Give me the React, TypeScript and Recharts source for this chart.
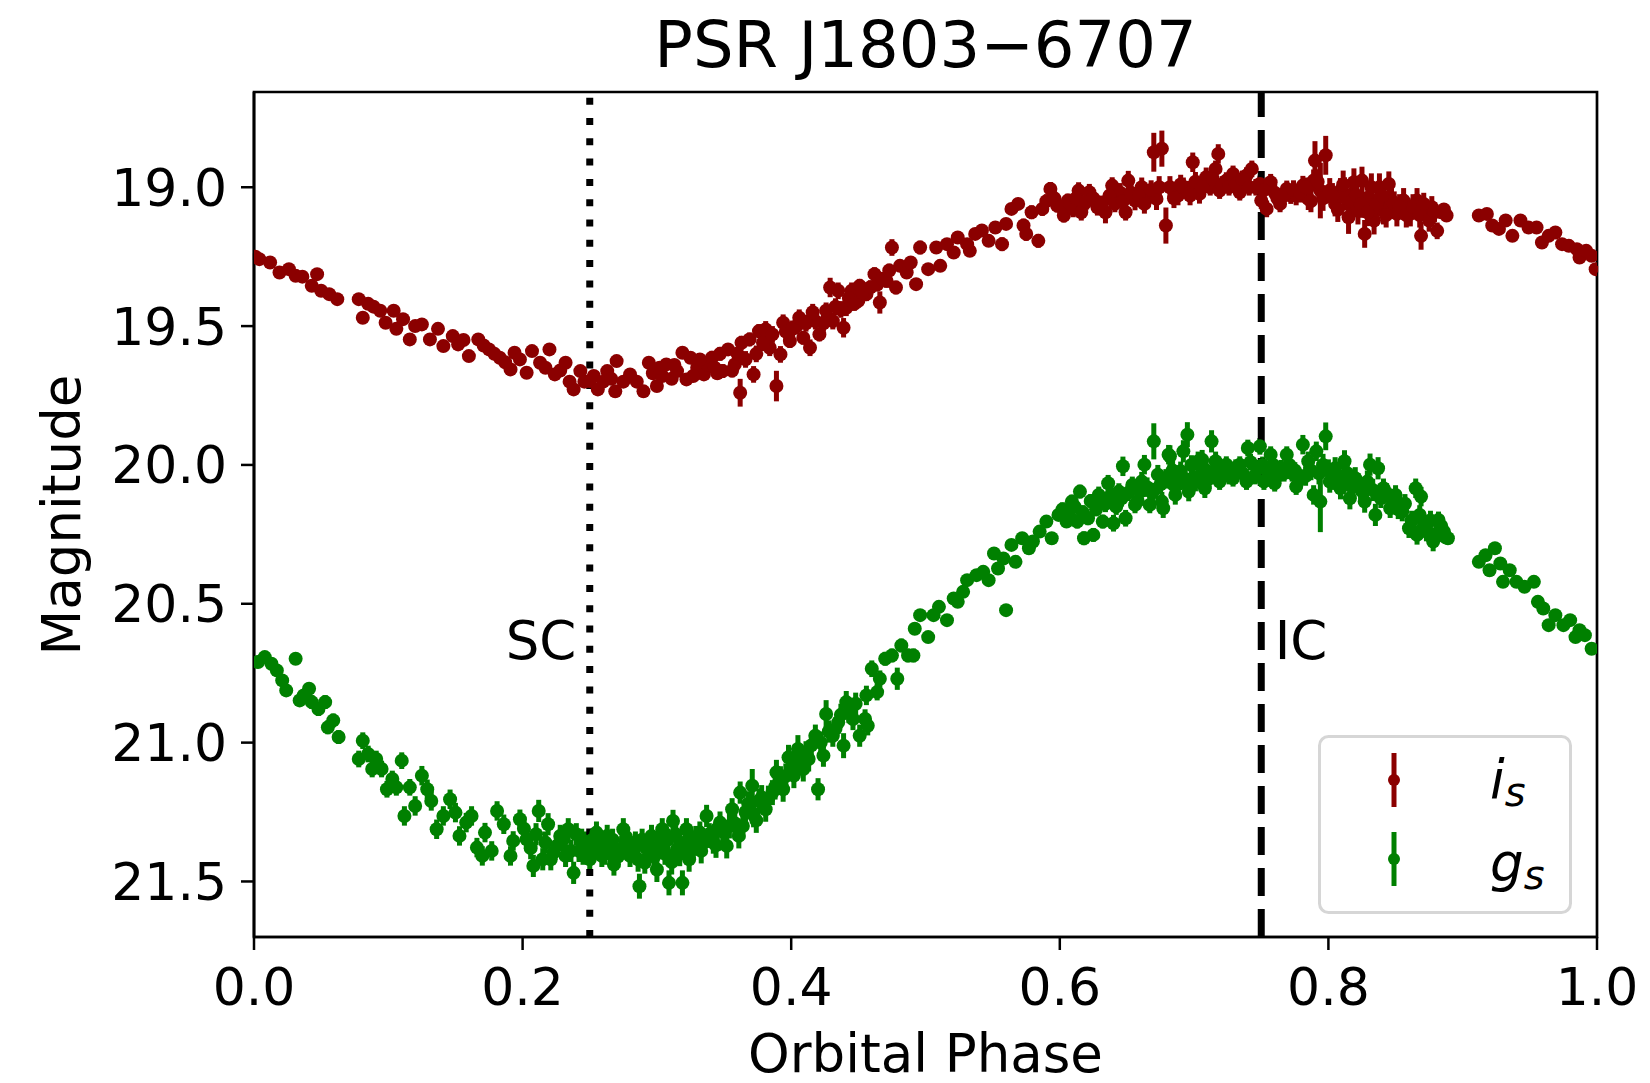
import {
  ScatterChart,
  Scatter,
  XAxis,
  YAxis,
  ErrorBar,
  ReferenceLine,
  ReferenceArea,
  ReferenceDot,
  Legend,
} from "recharts";

// [orbital phase, magnitude, 1-sigma error]
const iBand: [number, number, number][] = [
  [0.001, 19.25, 0.012], [0.004, 19.259, 0.012], [0.012, 19.271, 0.012], [0.019, 19.307, 0.012],
  [0.026, 19.295, 0.012], [0.031, 19.319, 0.012], [0.036, 19.322, 0.012], [0.043, 19.355, 0.012],
  [0.047, 19.313, 0.012], [0.05, 19.373, 0.012], [0.056, 19.385, 0.012], [0.062, 19.403, 0.012],
  [0.078, 19.403, 0.012], [0.081, 19.47, 0.015], [0.085, 19.42, 0.015], [0.089, 19.43, 0.015],
  [0.094, 19.445, 0.015], [0.098, 19.488, 0.015], [0.104, 19.445, 0.015], [0.106, 19.51, 0.015],
  [0.111, 19.475, 0.015], [0.116, 19.548, 0.015], [0.12, 19.5, 0.015], [0.125, 19.494, 0.015],
  [0.131, 19.548, 0.015], [0.137, 19.51, 0.015], [0.141, 19.572, 0.015], [0.148, 19.536, 0.015],
  [0.152, 19.566, 0.015], [0.156, 19.55, 0.015], [0.16, 19.608, 0.015], [0.167, 19.548, 0.015],
  [0.171, 19.57, 0.015], [0.175, 19.584, 0.015], [0.179, 19.6, 0.015], [0.183, 19.614, 0.015],
  [0.187, 19.63, 0.015], [0.191, 19.656, 0.015], [0.194, 19.596, 0.015], [0.198, 19.62, 0.015],
  [0.203, 19.668, 0.015], [0.207, 19.59, 0.015], [0.213, 19.632, 0.015], [0.217, 19.65, 0.015],
  [0.22, 19.584, 0.015], [0.224, 19.674, 0.015], [0.228, 19.66, 0.015], [0.232, 19.632, 0.015],
  [0.235, 19.7, 0.015], [0.238, 19.728, 0.015], [0.243, 19.662, 0.015], [0.246, 19.7, 0.015],
  [0.25, 19.698, 0.015], [0.253, 19.68, 0.015], [0.256, 19.728, 0.015], [0.26, 19.7, 0.015],
  [0.263, 19.662, 0.015], [0.266, 19.69, 0.015], [0.269, 19.735, 0.015], [0.27, 19.626, 0.015],
  [0.275, 19.7, 0.015], [0.28, 19.674, 0.015], [0.285, 19.7, 0.015], [0.29, 19.735, 0.018],
  [0.294, 19.632, 0.018], [0.297, 19.67, 0.018], [0.3, 19.716, 0.018], [0.304, 19.68, 0.018],
  [0.307, 19.638, 0.018], [0.311, 19.69, 0.018], [0.315, 19.662, 0.018], [0.319, 19.596, 0.018],
  [0.322, 19.692, 0.02], [0.325, 19.614, 0.02], [0.33, 19.65, 0.02], [0.335, 19.674, 0.02],
  [0.338, 19.64, 0.02], [0.341, 19.614, 0.025], [0.345, 19.67, 0.02], [0.349, 19.662, 0.025],
  [0.353, 19.584, 0.02], [0.358, 19.638, 0.025], [0.362, 19.74, 0.05], [0.363, 19.56, 0.025],
  [0.366, 19.62, 0.03], [0.369, 19.548, 0.025], [0.372, 19.674, 0.03], [0.376, 19.518, 0.025],
  [0.381, 19.512, 0.03], [0.384, 19.578, 0.03], [0.389, 19.716, 0.055], [0.392, 19.602, 0.03],
  [0.394, 19.488, 0.03], [0.399, 19.554, 0.025], [0.404, 19.5, 0.03], [0.409, 19.542, 0.025],
  [0.414, 19.578, 0.03], [0.418, 19.482, 0.03], [0.421, 19.53, 0.025], [0.426, 19.445, 0.03],
  [0.429, 19.361, 0.035], [0.431, 19.482, 0.03], [0.435, 19.373, 0.03], [0.439, 19.506, 0.035],
  [0.441, 19.434, 0.03], [0.445, 19.373, 0.03], [0.45, 19.409, 0.025], [0.451, 19.355, 0.025],
  [0.456, 19.385, 0.025], [0.462, 19.313, 0.025], [0.466, 19.415, 0.04], [0.471, 19.337, 0.025],
  [0.475, 19.217, 0.03], [0.478, 19.361, 0.025], [0.481, 19.283, 0.02], [0.486, 19.307, 0.02],
  [0.489, 19.271, 0.02], [0.493, 19.349, 0.02], [0.496, 19.217, 0.025], [0.502, 19.295, 0.02],
  [0.508, 19.217, 0.02], [0.511, 19.283, 0.02], [0.516, 19.205, 0.02], [0.521, 19.235, 0.02],
  [0.524, 19.181, 0.02], [0.531, 19.205, 0.02], [0.533, 19.229, 0.02], [0.537, 19.168, 0.02],
  [0.542, 19.156, 0.02], [0.547, 19.193, 0.02], [0.552, 19.145, 0.02], [0.557, 19.205, 0.025],
  [0.56, 19.132, 0.02], [0.564, 19.078, 0.02], [0.569, 19.06, 0.02], [0.573, 19.138, 0.025],
  [0.575, 19.168, 0.025], [0.579, 19.09, 0.025], [0.584, 19.193, 0.025], [0.587, 19.078, 0.025],
  [0.59, 19.05, 0.025], [0.593, 19.006, 0.025], [0.598, 19.066, 0.025], [0.603, 19.102, 0.025],
  [0.606, 19.048, 0.025], [0.61, 19.078, 0.03], [0.614, 19.012, 0.03], [0.618, 19.06, 0.03],
  [0.622, 19.018, 0.03], [0.628, 19.072, 0.03], [0.634, 19.09, 0.04], [0.639, 18.994, 0.03],
  [0.642, 19.036, 0.03], [0.645, 19.02, 0.035], [0.649, 19.09, 0.03], [0.651, 18.976, 0.035],
  [0.656, 19.048, 0.035], [0.661, 19.0, 0.035], [0.666, 19.036, 0.035], [0.67, 18.874, 0.07],
  [0.672, 19.042, 0.04], [0.676, 18.861, 0.065], [0.679, 19.138, 0.065], [0.682, 19.0, 0.04],
  [0.688, 19.03, 0.035], [0.692, 19.0, 0.035], [0.695, 19.012, 0.035], [0.699, 18.91, 0.035],
  [0.704, 19.024, 0.035], [0.709, 18.964, 0.035], [0.712, 19.0, 0.03], [0.716, 18.934, 0.03],
  [0.718, 18.88, 0.035], [0.719, 19.012, 0.03], [0.724, 18.976, 0.03], [0.729, 18.952, 0.03],
  [0.734, 19.018, 0.03], [0.739, 18.958, 0.03], [0.743, 18.934, 0.03], [0.746, 19.0, 0.03],
  [0.749, 18.988, 0.03], [0.75, 19.048, 0.03], [0.754, 19.078, 0.03], [0.757, 18.982, 0.03],
  [0.76, 19.02, 0.03], [0.764, 19.06, 0.03], [0.769, 19.006, 0.03], [0.772, 19.03, 0.03],
  [0.776, 19.03, 0.035], [0.781, 18.994, 0.035], [0.785, 19.042, 0.04], [0.789, 18.976, 0.04],
  [0.79, 18.904, 0.07], [0.794, 19.012, 0.1], [0.798, 18.885, 0.07], [0.801, 19.012, 0.045],
  [0.805, 19.06, 0.045], [0.809, 19.012, 0.045], [0.812, 19.024, 0.06], [0.815, 19.108, 0.06],
  [0.819, 18.982, 0.05], [0.822, 19.084, 0.05], [0.825, 18.976, 0.05], [0.827, 19.168, 0.05],
  [0.83, 19.036, 0.05], [0.834, 19.12, 0.05], [0.838, 19.0, 0.05], [0.841, 19.084, 0.05],
  [0.845, 18.988, 0.045], [0.847, 19.048, 0.045], [0.851, 19.096, 0.045], [0.856, 19.048, 0.045],
  [0.861, 19.096, 0.045], [0.866, 19.048, 0.045], [0.869, 19.175, 0.05], [0.873, 19.096, 0.04],
  [0.877, 19.072, 0.04], [0.881, 19.157, 0.03], [0.884, 19.09, 0.02], [0.888, 19.102, 0.015],
  [0.912, 19.102, 0.012], [0.918, 19.096, 0.012], [0.922, 19.138, 0.012], [0.927, 19.15, 0.012],
  [0.932, 19.12, 0.012], [0.937, 19.175, 0.012], [0.943, 19.12, 0.012], [0.949, 19.145, 0.012],
  [0.955, 19.145, 0.012], [0.959, 19.199, 0.012], [0.964, 19.175, 0.012], [0.969, 19.163, 0.012],
  [0.974, 19.205, 0.012], [0.979, 19.211, 0.012], [0.985, 19.223, 0.012], [0.987, 19.253, 0.012],
  [0.992, 19.229, 0.012], [0.996, 19.247, 0.012], [0.999, 19.295, 0.012],
  // more points inside the thick parts of the band
  [0.302, 19.65, 0.02], [0.313, 19.64, 0.02], [0.327, 19.68, 0.02], [0.332, 19.62, 0.02],
  [0.343, 19.65, 0.025], [0.347, 19.6, 0.025], [0.356, 19.66, 0.025], [0.36, 19.6, 0.025],
  [0.374, 19.6, 0.03], [0.379, 19.56, 0.03], [0.386, 19.53, 0.03], [0.396, 19.52, 0.03],
  [0.401, 19.51, 0.03], [0.406, 19.47, 0.03], [0.411, 19.49, 0.03], [0.416, 19.45, 0.03],
  [0.424, 19.49, 0.03], [0.433, 19.43, 0.03], [0.437, 19.44, 0.03], [0.443, 19.4, 0.03],
  [0.447, 19.42, 0.025], [0.453, 19.38, 0.025], [0.459, 19.36, 0.025], [0.464, 19.35, 0.025],
  [0.468, 19.33, 0.025], [0.473, 19.3, 0.025],
  [0.596, 19.04, 0.025], [0.601, 19.07, 0.025], [0.608, 19.06, 0.03], [0.612, 19.04, 0.03],
  [0.616, 19.09, 0.03], [0.62, 19.05, 0.03], [0.625, 19.04, 0.03], [0.631, 19.06, 0.03],
  [0.637, 19.03, 0.03], [0.641, 19.06, 0.03], [0.647, 19.05, 0.03],
  [0.653, 19.02, 0.035], [0.659, 19.03, 0.035], [0.663, 19.06, 0.035], [0.668, 19.01, 0.035],
  [0.674, 19.0, 0.04], [0.685, 19.04, 0.035], [0.69, 18.99, 0.035], [0.697, 19.03, 0.035],
  [0.701, 18.98, 0.035], [0.706, 19.0, 0.035], [0.714, 18.97, 0.03], [0.721, 18.99, 0.03],
  [0.726, 19.0, 0.03], [0.731, 18.99, 0.03], [0.736, 18.97, 0.03], [0.741, 19.0, 0.03],
  [0.752, 19.01, 0.03], [0.762, 19.04, 0.03], [0.767, 19.03, 0.03], [0.774, 19.01, 0.035],
  [0.779, 19.02, 0.035], [0.783, 19.0, 0.035], [0.787, 19.05, 0.04], [0.792, 18.98, 0.045],
  [0.796, 19.04, 0.045], [0.803, 19.03, 0.045], [0.807, 19.08, 0.045], [0.811, 18.99, 0.05],
  [0.817, 19.05, 0.05], [0.821, 19.03, 0.05], [0.824, 19.06, 0.05], [0.829, 19.09, 0.05],
  [0.832, 19.0, 0.05], [0.836, 19.06, 0.05], [0.84, 19.03, 0.05], [0.843, 19.1, 0.045],
  [0.849, 19.06, 0.045], [0.853, 19.07, 0.045], [0.858, 19.1, 0.045], [0.863, 19.07, 0.045],
  [0.868, 19.1, 0.045], [0.871, 19.06, 0.04], [0.875, 19.12, 0.04], [0.879, 19.09, 0.035],
  [0.886, 19.08, 0.02],
];

const gBand: [number, number, number][] = [
  [0.003, 20.71, 0.02], [0.008, 20.692, 0.02], [0.013, 20.716, 0.02], [0.017, 20.74, 0.02],
  [0.021, 20.776, 0.02], [0.024, 20.812, 0.02], [0.031, 20.698, 0.02], [0.034, 20.848, 0.02],
  [0.037, 20.83, 0.02], [0.041, 20.806, 0.02], [0.043, 20.854, 0.025], [0.048, 20.879, 0.025],
  [0.053, 20.854, 0.025], [0.055, 20.945, 0.025], [0.059, 20.92, 0.025], [0.063, 20.98, 0.025],
  [0.078, 21.059, 0.03], [0.081, 20.993, 0.03], [0.085, 21.041, 0.03], [0.088, 21.095, 0.03],
  [0.091, 21.059, 0.03], [0.095, 21.095, 0.03], [0.099, 21.168, 0.03], [0.103, 21.131, 0.03],
  [0.106, 21.161, 0.03], [0.11, 21.065, 0.03], [0.112, 21.264, 0.035], [0.116, 21.161, 0.03],
  [0.12, 21.228, 0.035], [0.125, 21.119, 0.035], [0.129, 21.168, 0.035], [0.132, 21.21, 0.035],
  [0.136, 21.312, 0.035], [0.141, 21.264, 0.035], [0.146, 21.204, 0.035], [0.15, 21.252, 0.035],
  [0.153, 21.336, 0.035], [0.158, 21.288, 0.035], [0.162, 21.264, 0.035], [0.166, 21.378, 0.035],
  [0.17, 21.408, 0.035], [0.172, 21.324, 0.035], [0.177, 21.39, 0.035], [0.181, 21.246, 0.035],
  [0.186, 21.294, 0.035], [0.191, 21.408, 0.035], [0.193, 21.354, 0.035], [0.198, 21.276, 0.035],
  [0.203, 21.348, 0.035], [0.208, 21.444, 0.04], [0.212, 21.246, 0.04], [0.215, 21.42, 0.04],
  [0.219, 21.294, 0.04], [0.223, 21.396, 0.04], [0.228, 21.336, 0.04], [0.232, 21.408, 0.04],
  [0.234, 21.312, 0.04], [0.238, 21.469, 0.04], [0.242, 21.39, 0.04], [0.244, 21.35, 0.04],
  [0.247, 21.36, 0.04], [0.25, 21.42, 0.04], [0.253, 21.38, 0.04], [0.255, 21.324, 0.04],
  [0.259, 21.408, 0.04], [0.263, 21.336, 0.04], [0.265, 21.39, 0.04], [0.268, 21.439, 0.04],
  [0.273, 21.384, 0.04], [0.275, 21.312, 0.04], [0.278, 21.37, 0.04], [0.28, 21.408, 0.04],
  [0.284, 21.36, 0.04], [0.287, 21.517, 0.045], [0.291, 21.432, 0.04], [0.294, 21.38, 0.04],
  [0.296, 21.336, 0.04], [0.3, 21.457, 0.045], [0.304, 21.312, 0.04], [0.306, 21.4, 0.04],
  [0.309, 21.505, 0.045], [0.312, 21.282, 0.04], [0.315, 21.384, 0.04], [0.319, 21.505, 0.045],
  [0.322, 21.312, 0.04], [0.325, 21.35, 0.04], [0.327, 21.384, 0.04], [0.332, 21.324, 0.04],
  [0.335, 21.36, 0.04], [0.337, 21.264, 0.04], [0.342, 21.36, 0.04], [0.345, 21.31, 0.04],
  [0.347, 21.288, 0.04], [0.352, 21.372, 0.045], [0.356, 21.24, 0.04], [0.361, 21.336, 0.045],
  [0.362, 21.18, 0.04], [0.366, 21.25, 0.045], [0.371, 21.155, 0.06], [0.374, 21.28, 0.045],
  [0.378, 21.198, 0.045], [0.381, 21.24, 0.045], [0.386, 21.18, 0.045], [0.389, 21.107, 0.045],
  [0.394, 21.168, 0.045], [0.398, 21.053, 0.045], [0.402, 21.119, 0.045], [0.405, 21.023, 0.05],
  [0.409, 21.095, 0.045], [0.413, 21.059, 0.045], [0.418, 20.975, 0.04], [0.42, 21.168, 0.04],
  [0.424, 21.047, 0.04], [0.426, 20.897, 0.05], [0.431, 20.975, 0.04], [0.435, 20.927, 0.04],
  [0.439, 21.011, 0.045], [0.441, 20.854, 0.04], [0.446, 20.915, 0.04], [0.451, 20.975, 0.04],
  [0.455, 20.915, 0.035], [0.456, 20.83, 0.035], [0.457, 20.939, 0.035], [0.46, 20.734, 0.03],
  [0.464, 20.818, 0.03], [0.466, 20.77, 0.03], [0.47, 20.698, 0.025], [0.475, 20.686, 0.025],
  [0.479, 20.77, 0.04], [0.482, 20.65, 0.025], [0.487, 20.686, 0.025], [0.491, 20.686, 0.025],
  [0.492, 20.59, 0.02], [0.496, 20.541, 0.02], [0.502, 20.62, 0.02], [0.506, 20.541, 0.02],
  [0.51, 20.511, 0.02], [0.516, 20.559, 0.02], [0.521, 20.481, 0.02], [0.524, 20.493, 0.02],
  [0.528, 20.457, 0.02], [0.531, 20.415, 0.02], [0.538, 20.397, 0.02], [0.543, 20.385, 0.02],
  [0.547, 20.415, 0.02], [0.551, 20.319, 0.02], [0.554, 20.373, 0.02], [0.558, 20.337, 0.02],
  [0.56, 20.523, 0.02], [0.564, 20.288, 0.02], [0.567, 20.349, 0.02], [0.572, 20.264, 0.02],
  [0.577, 20.3, 0.02], [0.58, 20.276, 0.02], [0.585, 20.24, 0.02], [0.59, 20.204, 0.02],
  [0.594, 20.264, 0.02], [0.599, 20.18, 0.02], [0.605, 20.204, 0.02], [0.609, 20.132, 0.025],
  [0.613, 20.204, 0.025], [0.615, 20.096, 0.025], [0.618, 20.264, 0.025], [0.621, 20.192, 0.025],
  [0.625, 20.252, 0.025], [0.629, 20.108, 0.03], [0.632, 20.204, 0.025], [0.636, 20.066, 0.03],
  [0.64, 20.21, 0.03], [0.644, 20.096, 0.03], [0.647, 20.005, 0.035], [0.649, 20.192, 0.03],
  [0.654, 20.072, 0.03], [0.656, 20.144, 0.03], [0.66, 20.096, 0.03], [0.663, 19.999, 0.035],
  [0.667, 20.144, 0.03], [0.67, 19.915, 0.065], [0.673, 20.035, 0.035], [0.676, 20.132, 0.035],
  [0.677, 20.156, 0.035], [0.681, 19.963, 0.035], [0.682, 19.969, 0.04], [0.685, 20.072, 0.035],
  [0.686, 20.108, 0.035], [0.69, 20.023, 0.035], [0.692, 19.951, 0.04], [0.695, 19.891, 0.045],
  [0.696, 20.096, 0.035], [0.699, 20.048, 0.035], [0.701, 20.06, 0.035], [0.703, 19.987, 0.035],
  [0.706, 19.981, 0.035], [0.708, 20.084, 0.035], [0.713, 19.915, 0.04], [0.716, 19.987, 0.035],
  [0.719, 20.06, 0.03], [0.724, 19.999, 0.03], [0.729, 20.048, 0.03], [0.734, 19.999, 0.03],
  [0.739, 20.06, 0.03], [0.74, 19.939, 0.03], [0.747, 20.012, 0.03], [0.749, 19.933, 0.03],
  [0.752, 20.06, 0.03], [0.757, 19.963, 0.03], [0.76, 20.066, 0.03], [0.765, 20.012, 0.03],
  [0.769, 19.963, 0.03], [0.773, 20.03, 0.03], [0.776, 20.078, 0.03], [0.781, 19.927, 0.035],
  [0.785, 19.987, 0.035], [0.789, 20.108, 0.035], [0.791, 19.951, 0.035], [0.794, 20.132, 0.11],
  [0.798, 19.897, 0.05], [0.801, 20.06, 0.04], [0.805, 20.012, 0.04], [0.809, 20.084, 0.04],
  [0.812, 19.987, 0.04], [0.816, 20.12, 0.04], [0.82, 20.048, 0.04], [0.824, 20.084, 0.04],
  [0.827, 20.132, 0.04], [0.831, 19.999, 0.04], [0.835, 20.18, 0.04], [0.837, 20.012, 0.04],
  [0.841, 20.084, 0.035], [0.846, 20.156, 0.035], [0.85, 20.108, 0.035], [0.855, 20.168, 0.035],
  [0.86, 20.228, 0.035], [0.865, 20.084, 0.035], [0.866, 20.252, 0.035], [0.869, 20.114, 0.035],
  [0.873, 20.24, 0.035], [0.878, 20.276, 0.035], [0.882, 20.198, 0.03], [0.886, 20.24, 0.02],
  [0.889, 20.264, 0.015], [0.912, 20.349, 0.015], [0.917, 20.325, 0.015], [0.92, 20.379, 0.015],
  [0.924, 20.3, 0.015], [0.928, 20.355, 0.015], [0.93, 20.421, 0.015], [0.935, 20.379, 0.015],
  [0.94, 20.421, 0.015], [0.946, 20.439, 0.015], [0.953, 20.421, 0.015], [0.956, 20.493, 0.015],
  [0.96, 20.517, 0.015], [0.964, 20.577, 0.015], [0.969, 20.541, 0.015], [0.975, 20.577, 0.015],
  [0.98, 20.559, 0.015], [0.984, 20.62, 0.015], [0.987, 20.595, 0.015], [0.991, 20.613, 0.015],
  [0.996, 20.662, 0.015],
  // more points inside the thick parts of the band
  [0.201, 21.31, 0.04], [0.206, 21.38, 0.04], [0.21, 21.33, 0.04], [0.217, 21.36, 0.04],
  [0.221, 21.42, 0.04], [0.226, 21.37, 0.04], [0.23, 21.35, 0.04], [0.236, 21.39, 0.04],
  [0.24, 21.33, 0.04], [0.245, 21.4, 0.04], [0.248, 21.38, 0.04], [0.252, 21.35, 0.04],
  [0.257, 21.37, 0.04], [0.261, 21.4, 0.04], [0.264, 21.36, 0.04], [0.267, 21.35, 0.04],
  [0.271, 21.41, 0.04], [0.277, 21.34, 0.04], [0.282, 21.38, 0.04], [0.286, 21.42, 0.045],
  [0.289, 21.35, 0.04], [0.292, 21.38, 0.04], [0.298, 21.41, 0.045], [0.302, 21.37, 0.04],
  [0.308, 21.35, 0.04], [0.311, 21.43, 0.045], [0.314, 21.33, 0.04], [0.317, 21.4, 0.045],
  [0.321, 21.36, 0.04], [0.324, 21.42, 0.045], [0.329, 21.34, 0.04], [0.333, 21.39, 0.045],
  [0.339, 21.33, 0.04], [0.344, 21.37, 0.045], [0.349, 21.32, 0.04], [0.354, 21.3, 0.045],
  [0.358, 21.29, 0.045], [0.364, 21.3, 0.045], [0.368, 21.22, 0.045], [0.372, 21.26, 0.045],
  [0.376, 21.21, 0.045], [0.383, 21.2, 0.045], [0.388, 21.16, 0.045], [0.392, 21.13, 0.045],
  [0.396, 21.12, 0.045], [0.4, 21.09, 0.045], [0.404, 21.08, 0.045], [0.407, 21.06, 0.045],
  [0.411, 21.04, 0.045], [0.415, 21.01, 0.04], [0.422, 21.0, 0.04], [0.428, 20.96, 0.04],
  [0.433, 20.95, 0.04], [0.437, 20.9, 0.04], [0.443, 20.89, 0.04], [0.448, 20.86, 0.04],
  [0.602, 20.16, 0.025], [0.607, 20.18, 0.025], [0.611, 20.15, 0.025], [0.617, 20.17, 0.025],
  [0.623, 20.13, 0.025], [0.627, 20.16, 0.025], [0.634, 20.14, 0.03], [0.638, 20.11, 0.03],
  [0.642, 20.15, 0.03], [0.646, 20.12, 0.03], [0.651, 20.1, 0.03], [0.658, 20.13, 0.03],
  [0.661, 20.06, 0.035], [0.665, 20.08, 0.035], [0.669, 20.1, 0.035], [0.675, 20.07, 0.035],
  [0.679, 20.05, 0.035], [0.684, 20.02, 0.035], [0.688, 20.07, 0.035], [0.693, 20.05, 0.035],
  [0.698, 20.0, 0.035], [0.704, 20.04, 0.035], [0.709, 20.02, 0.035], [0.711, 20.05, 0.035],
  [0.715, 20.03, 0.03], [0.721, 20.02, 0.03], [0.726, 20.04, 0.03], [0.731, 20.01, 0.03],
  [0.736, 20.03, 0.03], [0.742, 19.99, 0.03], [0.745, 20.04, 0.03], [0.751, 20.0, 0.03],
  [0.755, 20.03, 0.03], [0.759, 20.0, 0.03], [0.762, 20.04, 0.03], [0.767, 20.03, 0.03],
  [0.771, 20.0, 0.03], [0.775, 20.02, 0.03], [0.779, 20.05, 0.035], [0.783, 20.04, 0.035],
  [0.787, 20.02, 0.035], [0.793, 20.03, 0.04], [0.796, 20.0, 0.04], [0.8, 20.02, 0.04],
  [0.803, 20.05, 0.04], [0.807, 20.04, 0.04], [0.811, 20.06, 0.04], [0.814, 20.03, 0.04],
  [0.818, 20.08, 0.04], [0.822, 20.07, 0.04], [0.826, 20.1, 0.04], [0.829, 20.06, 0.04],
  [0.833, 20.09, 0.04], [0.839, 20.12, 0.035], [0.843, 20.1, 0.035], [0.848, 20.14, 0.035],
  [0.852, 20.16, 0.035], [0.857, 20.14, 0.035], [0.862, 20.2, 0.035], [0.868, 20.18, 0.035],
  [0.871, 20.22, 0.035], [0.876, 20.2, 0.035], [0.88, 20.25, 0.03], [0.884, 20.22, 0.03],
  [0.887, 20.26, 0.02],
];

const phaseTicks = [0, 0.2, 0.4, 0.6, 0.8, 1.0];
const magTicks = [19.0, 19.5, 20.0, 20.5, 21.0, 21.5];
const magDomain: [number, number] = [18.657, 21.7];

const RED = "#8b0000";
const GREEN = "#008000";

const toPoints = (rows: [number, number, number][]) =>
  rows.map(([x, y, err]) => ({ x, y, err }));

const dot = (color: string) => (props: any) =>
  <circle cx={props.cx} cy={props.cy} r={7} fill={color} />;

const XTitle = (props: any) => {
  const vb = props.viewBox || {};
  const cx = (vb.x ?? 254) + (vb.width ?? 1343) / 2;
  return (
    <text x={cx} y={1072} textAnchor="middle" fontSize={53} fill="#000">
      Orbital Phase
    </text>
  );
};

const YTitle = () => (
  <text x={80} y={515} transform="rotate(-90 80 515)" textAnchor="middle" fontSize={53} fill="#000">
    Magnitude
  </text>
);

const phaseLabel = (text: string, anchor: "start" | "end") => (props: any) =>
  (
    <text x={props.cx} y={props.cy} textAnchor={anchor} fontSize={53} fill="#000">
      {text}
    </text>
  );

const renderLegend = () => (
  <svg width={254} height={179}>
    <rect x={1.5} y={1.5} width={251} height={176} rx={9} fill="#fff" fillOpacity={0.8} stroke="#d6d6d6" strokeWidth={3} />
    <line x1={76} x2={76} y1={18} y2={72} stroke={RED} strokeWidth={5} />
    <circle cx={76} cy={45} r={6} fill={RED} />
    <line x1={76} x2={76} y1={97} y2={151} stroke={GREEN} strokeWidth={5} />
    <circle cx={76} cy={124} r={6} fill={GREEN} />
    <text x={172} y={63} fontSize={53} fontStyle="italic" fill="#000">
      i<tspan fontSize={40} dy={8}>s</tspan>
    </text>
    <text x={172} y={146} fontSize={53} fontStyle="italic" fill="#000">
      g<tspan fontSize={40} dy={8}>s</tspan>
    </text>
  </svg>
);

export default function App() {
  const tickStyle = { fill: "#000", fontSize: 52 };
  const axisLine = { stroke: "#000", strokeWidth: 2.7 };
  const tickLine = { stroke: "#000", strokeWidth: 2.5 };
  return (
    <div
      style={{
        position: "absolute",
        left: 0,
        top: 0,
        width: 1650,
        height: 1083,
        background: "#fff",
        fontFamily: "'DejaVu Sans', sans-serif",
      }}
    >
      <div
        style={{
          position: "absolute",
          left: 254,
          top: 13,
          width: 1343,
          textAlign: "center",
          fontSize: 64,
          lineHeight: "64px",
          color: "#000",
        }}
      >
        PSR J1803−6707
      </div>
      <ScatterChart width={1650} height={1083} margin={{ top: 92, right: 53, bottom: 0, left: 0 }}>
        <XAxis
          type="number"
          dataKey="x"
          domain={[0, 1]}
          ticks={phaseTicks}
          tickFormatter={(v: number) => v.toFixed(1)}
          allowDataOverflow
          height={146}
          tickSize={13}
          tickMargin={18}
          tick={tickStyle}
          axisLine={axisLine}
          tickLine={tickLine}
          label={<XTitle />}
        />
        <YAxis
          type="number"
          dataKey="y"
          domain={magDomain}
          reversed
          ticks={magTicks}
          tickFormatter={(v: number) => v.toFixed(1)}
          allowDataOverflow
          width={254}
          tickSize={13}
          tickMargin={14}
          tick={tickStyle}
          axisLine={axisLine}
          tickLine={tickLine}
          label={<YTitle />}
        />
        <ReferenceArea
          x1={0}
          x2={1}
          y1={magDomain[0]}
          y2={magDomain[1]}
          fill="none"
          stroke="#000"
          strokeWidth={2.7}
        />
        <Scatter name="i_s" data={toPoints(iBand)} fill={RED} shape={dot(RED)} isAnimationActive={false}>
          <ErrorBar dataKey="err" direction="y" width={0} stroke={RED} strokeWidth={5} isAnimationActive={false} />
        </Scatter>
        <Scatter name="g_s" data={toPoints(gBand)} fill={GREEN} shape={dot(GREEN)} isAnimationActive={false}>
          <ErrorBar dataKey="err" direction="y" width={0} stroke={GREEN} strokeWidth={5} isAnimationActive={false} />
        </Scatter>
        <ReferenceLine x={0.25} stroke="#000" strokeWidth={7} strokeDasharray="7 13.3" />
        <ReferenceLine x={0.75} stroke="#000" strokeWidth={7} strokeDasharray="28 13" />
        <ReferenceDot x={0.24} y={20.7} r={0} shape={phaseLabel("SC", "end")} />
        <ReferenceDot x={0.76} y={20.7} r={0} shape={phaseLabel("IC", "start")} />
        <Legend
          layout="vertical"
          align="center"
          verticalAlign="middle"
          content={renderLegend}
          wrapperStyle={{ left: 1318, top: 735, width: 254, height: 179 }}
        />
      </ScatterChart>
    </div>
  );
}
